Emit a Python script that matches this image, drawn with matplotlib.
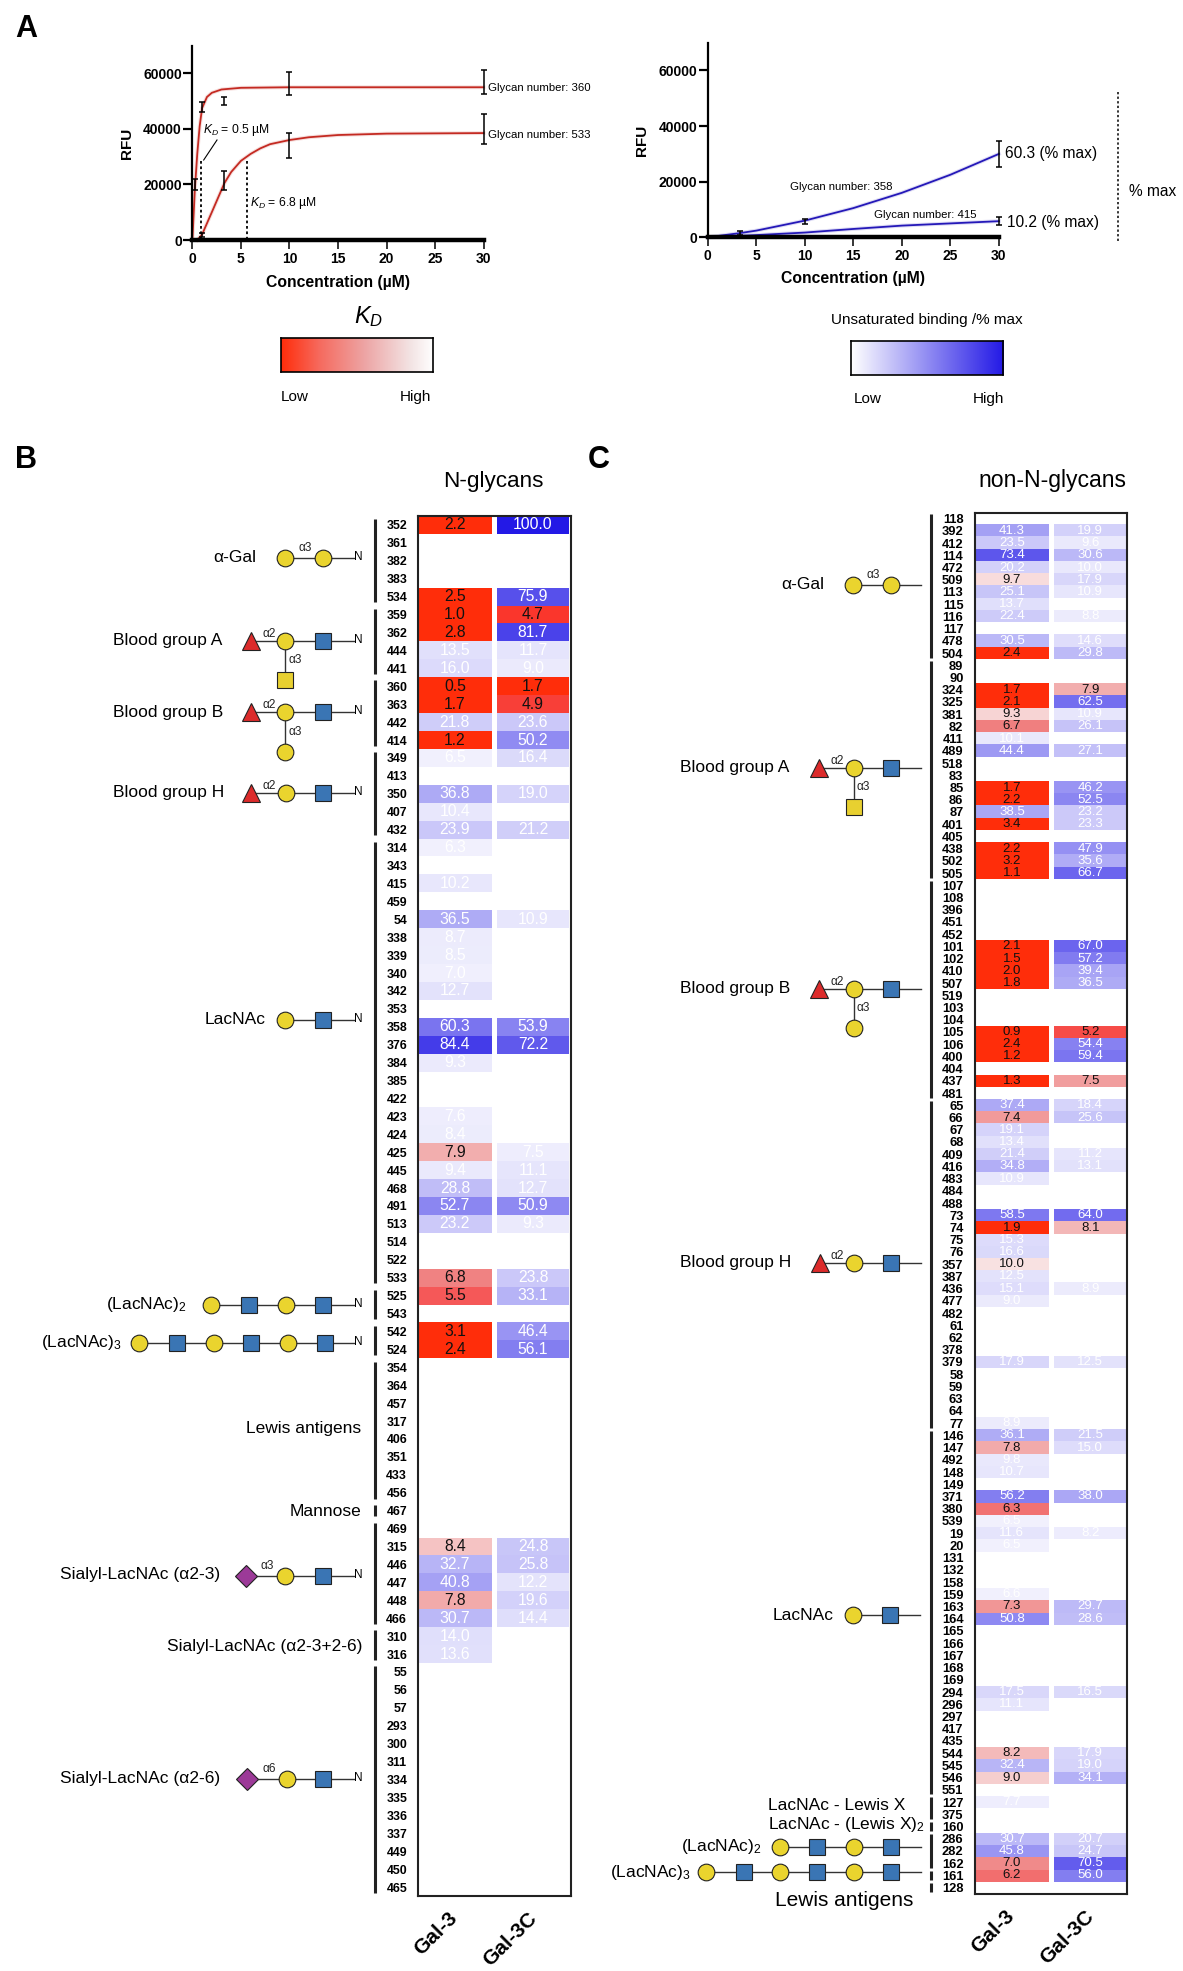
import matplotlib
matplotlib.use('Agg')
import matplotlib.pyplot as plt
import numpy as np
from matplotlib.colors import LinearSegmentedColormap

plt.rcParams['font.family'] = ['Liberation Sans', 'DejaVu Sans']
plt.rcParams['mathtext.fontset'] = 'custom'
plt.rcParams['mathtext.rm'] = 'Liberation Sans'
plt.rcParams['mathtext.it'] = 'Liberation Sans:italic'
plt.rcParams['mathtext.bf'] = 'Liberation Sans:bold'

W, H = 1183, 1971

# panel A, saturated curves
conc_360 = [0, 0.25, 0.5, 0.75, 1, 1.5, 2, 3, 5, 10, 30]
rfu_360 = [0, 18000, 31000, 41000, 47500, 51500, 53000, 54200, 54800, 55000, 55000]
conc_533 = [0.5, 1, 2, 3.3, 4, 5, 6, 7, 8, 10, 12, 15, 20, 30]
rfu_533 = [0, 2000, 10000, 20500, 24500, 28500, 31000, 33000, 34500, 36000, 37000, 37800, 38300, 38500]
pts_360_x = [0.31, 1, 3.3, 10, 30]
pts_360_y = [20000, 47900, 50100, 56400, 56800]
pts_360_err = [2100, 1900, 1500, 4200, 4400]
pts_533_x = [1, 3.3, 10, 30]
pts_533_y = [1800, 21500, 34200, 39900]
pts_533_err = [700, 3500, 4500, 5300]

# panel A, unsaturated curves
conc_358 = [0, 3.3, 5, 10, 15, 20, 25, 30]
rfu_358 = [0, 1500, 2400, 6000, 10500, 16000, 22500, 30000]
conc_415 = [0, 1, 5, 10, 15, 20, 25, 30]
rfu_415 = [0, 100, 800, 1700, 3000, 4200, 5000, 5800]
pts_358_x = [3.3, 10, 30]
pts_358_y = [1600, 5600, 30000]
pts_358_err = [700, 950, 4700]
pts_415_x = [30]
pts_415_y = [5900]
pts_415_err = [1400]

# panel B, rows by group
b_groups = [
    [352, 361, 382, 383, 534],
    [359, 362, 444, 441],
    [360, 363, 442, 414],
    [349, 413, 350, 407, 432],
    [314, 343, 415, 459, 54, 338, 339, 340, 342, 353, 358, 376, 384, 385, 422, 423, 424, 425,
     445, 468, 491, 513, 514, 522, 533],
    [525, 543],
    [542, 524],
    [354, 364, 457, 317, 406, 351, 433, 456],
    [467],
    [469, 315, 446, 447, 448, 466],
    [310, 316],
    [55, 56, 57, 293, 300, 311, 334, 335, 336, 337, 449, 450, 465],
]
b_gal3_kd = {352: 2.2, 534: 2.5, 359: 1.0, 362: 2.8, 360: 0.5, 363: 1.7, 414: 1.2, 425: 7.9,
             533: 6.8, 525: 5.5, 542: 3.1, 524: 2.4, 315: 8.4, 448: 7.8}
b_gal3_pct = {444: 13.5, 441: 16.0, 442: 21.8, 349: 6.5, 350: 36.8, 407: 10.4, 432: 23.9, 314: 6.3,
              415: 10.2, 54: 36.5, 338: 8.7, 339: 8.5, 340: 7.0, 342: 12.7, 358: 60.3, 376: 84.4,
              384: 9.3, 423: 7.6, 424: 8.4, 445: 9.4, 468: 28.8, 491: 52.7, 513: 23.2, 446: 32.7,
              447: 40.8, 466: 30.7, 310: 14.0, 316: 13.6}
b_gal3c_kd = {359: 4.7, 360: 1.7, 363: 4.9}
b_gal3c_pct = {352: 100.0, 534: 75.9, 362: 81.7, 444: 11.7, 441: 9.0, 442: 23.6, 414: 50.2, 349: 16.4,
               350: 19.0, 432: 21.2, 54: 10.9, 358: 53.9, 376: 72.2, 425: 7.5, 445: 11.1, 468: 12.7,
               491: 50.9, 513: 9.3, 533: 23.8, 525: 33.1, 542: 46.4, 524: 56.1, 315: 24.8, 446: 25.8,
               447: 12.2, 448: 19.6, 466: 14.4}

# panel C, rows by group
c_groups = [
    [118, 392, 412, 114, 472, 509, 113, 115, 116, 117, 478, 504],
    [89, 90, 324, 325, 381, 82, 411, 489, 518, 83, 85, 86, 87, 401, 405, 438, 502, 505],
    [107, 108, 396, 451, 452, 101, 102, 410, 507, 519, 103, 104, 105, 106, 400, 404, 437, 481],
    [65, 66, 67, 68, 409, 416, 483, 484, 488, 73, 74, 75, 76, 357, 387, 436, 477, 482, 61, 62,
     378, 379, 58, 59, 63, 64, 77],
    [146, 147, 492, 148, 149, 371, 380, 539, 19, 20, 131, 132, 158, 159, 163, 164, 165, 166, 167,
     168, 169, 294, 296, 297, 417, 435, 544, 545, 546, 551],
    [127, 375],
    [160],
    [286, 282, 162],
    [161],
    [128],
]
c_gal3_kd = {509: 9.7, 504: 2.4, 324: 1.7, 325: 2.1, 381: 9.3, 82: 6.7, 85: 1.7, 86: 2.2, 401: 3.4,
             438: 2.2, 502: 3.2, 505: 1.1, 101: 2.1, 102: 1.5, 410: 2.0, 507: 1.8, 105: 0.9, 106: 2.4,
             400: 1.2, 437: 1.3, 66: 7.4, 74: 1.9, 357: 10.0, 147: 7.8, 380: 6.3, 163: 7.3, 544: 8.2,
             546: 9.0, 162: 7.0, 161: 6.2}
c_gal3_pct = {392: 41.3, 412: 23.5, 114: 73.4, 472: 20.2, 113: 25.1, 115: 13.7, 116: 22.4, 478: 30.5,
              411: 10.1, 489: 44.4, 87: 38.5, 65: 37.4, 67: 19.1, 68: 13.4, 409: 21.4, 416: 34.8,
              483: 10.9, 73: 58.5, 75: 15.3, 76: 16.6, 387: 12.5, 436: 15.1, 477: 9.0, 379: 17.9,
              77: 8.9, 146: 36.1, 492: 9.8, 148: 10.7, 371: 56.2, 539: 6.5, 19: 11.6, 20: 6.5,
              159: 6.6, 164: 50.8, 294: 17.5, 296: 11.1, 545: 32.4, 127: 7.7, 286: 30.7, 282: 45.8}
c_gal3c_kd = {324: 7.9, 105: 5.2, 437: 7.5, 74: 8.1}
c_gal3c_pct = {392: 19.9, 412: 9.6, 114: 30.6, 472: 10.0, 509: 17.9, 113: 10.9, 116: 8.8, 478: 14.6,
               504: 29.8, 325: 62.5, 381: 10.9, 82: 26.1, 489: 27.1, 85: 46.2, 86: 52.5, 87: 23.2,
               401: 23.3, 438: 47.9, 502: 35.6, 505: 66.7, 101: 67.0, 102: 57.2, 410: 39.4, 507: 36.5,
               106: 54.4, 400: 59.4, 65: 18.4, 66: 25.6, 409: 11.2, 416: 13.1, 73: 64.0, 436: 8.9,
               379: 12.5, 146: 21.5, 147: 15.0, 371: 38.0, 19: 8.2, 163: 29.7, 164: 28.6, 294: 16.5,
               544: 17.9, 545: 19.0, 546: 34.1, 286: 20.7, 282: 24.7, 162: 70.5, 161: 56.0}

RED = '#ff2d0a'
BLUE = '#2319e6'
kd_cmap = LinearSegmentedColormap.from_list('kd', [
    (0.00, RED), (0.17, '#fa372d'), (0.29, '#f55a5a'), (0.47, '#f08282'),
    (0.63, '#f3afaf'), (0.70, '#f5c3c3'), (0.93, '#f9e2e2'), (1.00, '#ffffff')])
pct_cmap = LinearSegmentedColormap.from_list('pct', ['#ffffff', BLUE])
bar_red = LinearSegmentedColormap.from_list('barr', [
    (0.00, RED), (0.25, '#f66a5e'), (0.55, '#eda5a5'), (0.85, '#f3e4e4'), (1.00, '#ffffff')])
bar_blue = LinearSegmentedColormap.from_list('barb', ['#ffffff', BLUE])


def kd_norm(v):
    return np.clip((v - 3.5) / 7.0, 0, 1)


fig = plt.figure(figsize=(W / 100, H / 100), dpi=100)


def px_axes(x0, y0, x1, y1):
    return fig.add_axes([x0 / W, 1 - y1 / H, (x1 - x0) / W, (y1 - y0) / H])


# overlay in pixel coordinates for labels and glycan drawings
ov = fig.add_axes([0, 0, 1, 1], zorder=5)
ov.set_xlim(0, W)
ov.set_ylim(H, 0)
ov.axis('off')


def label(x, y, s, size=12, ha='left', **kw):
    ov.text(x, y, s, fontsize=size, ha=ha, va='center', **kw)


def curve_panel(rect, curves, points, color):
    ax = px_axes(*rect)
    for xs, ys in curves:
        ax.plot(xs, ys, color=color, lw=2.8, alpha=0.15, clip_on=False)
        ax.plot(xs, ys, color=color, lw=1.3, clip_on=False)
    for xs, ys, es in points:
        ax.errorbar(xs, ys, yerr=es, fmt='none', ecolor='black', elinewidth=1.1, capsize=2,
                    capthick=1.1, clip_on=False, zorder=4)
    ax.set_xlim(0, 30)
    ax.set_ylim(0, 70000)
    ax.set_xticks(range(0, 31, 5))
    ax.set_yticks([0, 20000, 40000, 60000])
    ax.tick_params(axis='x', length=6.5, width=1.1, labelsize=10, pad=2)
    ax.tick_params(axis='y', length=6.5, width=1.6, labelsize=10, pad=1)
    plt.setp(ax.get_xticklabels() + ax.get_yticklabels(), fontweight='bold')
    ax.spines[['top', 'right']].set_visible(False)
    ax.spines['left'].set_linewidth(1.6)
    ax.spines['bottom'].set_linewidth(3.2)
    ax.patch.set_alpha(0)
    return ax


curve_panel((192.4, 45.6, 483.6, 240), [(conc_360, rfu_360), (conc_533, rfu_533)],
            [(pts_360_x, pts_360_y, pts_360_err), (pts_533_x, pts_533_y, pts_533_err)], '#c42a22')
curve_panel((707.7, 42.7, 998.9, 237.3), [(conc_358, rfu_358), (conc_415, rfu_415)],
            [(pts_358_x, pts_358_y, pts_358_err), (pts_415_x, pts_415_y, pts_415_err)], '#2418b8')

label(15, 29, 'A', 22, fontweight='bold')
label(15, 460, 'B', 22, fontweight='bold')
label(588, 460, 'C', 22, fontweight='bold')

label(127, 143, 'RFU', 11, ha='center', rotation=90, fontweight='bold')
label(642, 140, 'RFU', 11, ha='center', rotation=90, fontweight='bold')
label(338, 282, 'Concentration (\u00b5M)', 11.3, ha='center', fontweight='bold')
label(853, 279, 'Concentration (\u00b5M)', 11.3, ha='center', fontweight='bold')
label(488, 88, 'Glycan number: 360', 8.2)
label(488, 135.5, 'Glycan number: 533', 8.2)
label(203, 130, '$\\mathit{K_D}$ = 0.5 \u00b5M', 8.7)
label(250.5, 203, '$\\mathit{K_D}$ = 6.8 \u00b5M', 8.7)
ov.plot([217, 203.7], [140, 160], color='black', lw=0.8)
ov.plot([201.4, 201.4], [161, 238], color='black', lw=1.3, ls=(0, (1.5, 1.5)))
ov.plot([247.5, 247.5], [161, 238], color='black', lw=1.3, ls=(0, (1.5, 1.5)))

label(790, 187, 'Glycan number: 358', 8.2)
label(873.6, 215, 'Glycan number: 415', 8.2)
label(1005, 153.7, '60.3 (% max)', 11.2)
label(1007, 222, '10.2 (% max)', 11.2)
ov.plot([1118, 1118], [92, 242], color='black', lw=1.1, ls=(0, (1.5, 1.5)))
label(1129, 192, '% max', 11.2)

label(369, 317, '$\\mathit{K_D}$', 17, ha='center')
label(927, 320, 'Unsaturated binding /% max', 11, ha='center')
label(281, 396.7, 'Low', 11)
label(431, 396.7, 'High', 11, ha='right')
label(854, 398.7, 'Low', 11)
label(1004, 398.7, 'High', 11, ha='right')


def gradient_bar(rect, cmap):
    ax = px_axes(*rect)
    ax.imshow(np.linspace(0, 1, 256)[None, :], cmap=cmap, aspect='auto', vmin=0, vmax=1)
    ax.set_xticks([])
    ax.set_yticks([])
    for s in ax.spines.values():
        s.set_linewidth(1.2)


gradient_bar((280.6, 337.5, 433, 372), bar_red)
gradient_bar((851, 340.5, 1003.4, 375), bar_blue)


def heat_column(ax, rows, kd, pct, x0, x1, size):
    rgba = np.ones((len(rows), 1, 4))
    for i, num in enumerate(rows):
        if num in kd:
            rgba[i, 0] = kd_cmap(float(kd_norm(kd[num])))
            ax.text((x0 + x1) / 2, i, f'{kd[num]:.1f}', color='#111111', fontsize=size,
                    ha='center', va='center')
        elif num in pct:
            rgba[i, 0] = pct_cmap(pct[num] / 100)
            ax.text((x0 + x1) / 2, i, f'{pct[num]:.1f}', color='white', fontsize=size,
                    ha='center', va='center')
    ax.imshow(rgba, extent=[x0, x1, len(rows) - 0.5, -0.5], aspect='auto', interpolation='nearest')


def heat_panel(rect, groups, gal3, gal3c, col1, col2, size, row_size, bar_x, label_pad, inset):
    rows = [n for g in groups for n in g]
    ax = px_axes(*rect)
    heat_column(ax, rows, gal3[0], gal3[1], col1[0], col1[1], size)
    heat_column(ax, rows, gal3c[0], gal3c[1], col2[0], col2[1], size)
    ax.set_xlim(rect[0], rect[2])
    ax.set_ylim(len(rows) - 0.5, -0.5)
    ax.set_xticks([])
    ax.set_yticks(range(len(rows)))
    ax.set_yticklabels([str(n) for n in rows], fontweight='bold', fontsize=row_size)
    ax.tick_params(axis='y', length=0, pad=label_pad)
    for s in ax.spines.values():
        s.set_linewidth(1.5)
        s.set_color('#222222')
    # group brackets left of the glycan numbers
    h = (rect[3] - rect[1]) / len(rows)
    start = 0
    for g in groups:
        y0 = rect[1] + start * h + inset
        y1 = rect[1] + (start + len(g)) * h - inset
        ov.plot([bar_x, bar_x], [y0, y1], color='#222222', lw=2.2, solid_capstyle='butt')
        start += len(g)


heat_panel((418.3, 516, 570.7, 1896), b_groups, (b_gal3_kd, b_gal3_pct), (b_gal3c_kd, b_gal3c_pct),
           (418.7, 491), (497, 569), 11.3, 8.9, 375.5, 8, 3.2)
heat_panel((974.6, 512.5, 1127, 1893.7), c_groups, (c_gal3_kd, c_gal3_pct), (c_gal3c_kd, c_gal3c_pct),
           (975.8, 1048), (1054.4, 1126.3), 9.5, 9.3, 931.5, 8, 1.5)

label(493.5, 481, 'N-glycans', 16.2, ha='center')
label(1052.5, 481, 'non-N-glycans', 16.6, ha='center')
for x, y, s in [(436, 1934, 'Gal-3'), (510, 1939.5, 'Gal-3C'), (993, 1932, 'Gal-3'), (1067, 1937, 'Gal-3C')]:
    label(x, y, s, 15, ha='center', rotation=45, fontweight='bold', rotation_mode='anchor')

# glycan symbol styles
SUGARS = {
    'gal': dict(marker='o', ms=12, mfc='#ead42e'),
    'glcnac': dict(marker='s', ms=11, mfc='#3a75b4'),
    'galnac': dict(marker='s', ms=11, mfc='#e8d030'),
    'fuc': dict(marker='^', ms=13.5, mfc='#dc2b2b'),
    'sia': dict(marker='D', ms=11, mfc='#9c3a98'),
}


def sugar(kind, x, y):
    ov.plot([x], [y], mec='#222222', mew=0.8, ls='none', zorder=3, **SUGARS[kind])


def chain(items, y, end, n_label=True):
    ov.plot([items[0][1], end], [y, y], color='#333333', lw=1, zorder=2)
    for kind, x in items:
        sugar(kind, x, y)
    if n_label:
        label(end + 0.5, y - 1, 'N', 8.5)


def link(x, y, s):
    label(x, y, s, 8.5, ha='center', color='#222222')


def branch(kind, x, y0, y1):
    ov.plot([x, x], [y0, y1], color='#333333', lw=1, zorder=2)
    sugar(kind, x, y1)


# panel B glycans
label(213, 558, '\u03b1-Gal', 12.5)
chain([('gal', 285), ('gal', 323)], 558, 353.6)
link(305.5, 548, '\u03b13')

label(113, 641, 'Blood group A', 12.5)
chain([('fuc', 250.6), ('gal', 285), ('glcnac', 323)], 641, 353.6)
link(269, 633.7, '\u03b12')
branch('galnac', 285, 641, 680)
link(295, 660, '\u03b13')

label(113, 712, 'Blood group B', 12.5)
chain([('fuc', 250.6), ('gal', 285.5), ('glcnac', 323.5)], 712, 353.6)
link(269, 705.3, '\u03b12')
branch('gal', 285.5, 712, 752)
link(295, 731.7, '\u03b13')

label(113, 792.7, 'Blood group H', 12.5)
chain([('fuc', 251.5), ('gal', 286), ('glcnac', 323.5)], 792.7, 353.6)
link(269, 786, '\u03b12')

label(205, 1019.7, 'LacNAc', 12.5)
chain([('gal', 285.5), ('glcnac', 323)], 1020, 353.6)
label(106.5, 1305, '(LacNAc)$_2$', 12.5)
chain([('gal', 211.5), ('glcnac', 248.7), ('gal', 286), ('glcnac', 323)], 1305, 353.6)
label(40.6, 1342.7, '(LacNAc)$_3$', 12.5)
chain([('gal', 139), ('glcnac', 176.8), ('gal', 213.7), ('glcnac', 251), ('gal', 287.8), ('glcnac', 325)],
      1342.7, 353.6)
label(361, 1428.7, 'Lewis antigens', 12.5, ha='right')
label(361, 1511, 'Mannose', 12.5, ha='right')

label(60, 1575, 'Sialyl-LacNAc (\u03b12-3)', 12.5)
chain([('sia', 245.7), ('gal', 285), ('glcnac', 323)], 1576, 353.6)
link(267.5, 1566, '\u03b13')
label(362, 1646, 'Sialyl-LacNAc (\u03b12-3+2-6)', 12.5, ha='right')
label(60, 1779, 'Sialyl-LacNAc (\u03b12-6)', 12.5)
chain([('sia', 247), ('gal', 286.7), ('glcnac', 323.5)], 1779, 353.6)
link(269, 1769.5, '\u03b16')

# panel C glycans
label(781, 584.3, '\u03b1-Gal', 12.5)
chain([('gal', 853), ('gal', 890.7)], 585, 921, n_label=False)
link(873, 575, '\u03b13')

label(680, 767.7, 'Blood group A', 12.5)
chain([('fuc', 819.2), ('gal', 853.6), ('glcnac', 891)], 768, 921, n_label=False)
link(837, 760.7, '\u03b12')
branch('galnac', 853.6, 768, 806.7)
link(863, 786.7, '\u03b13')

label(680, 988, 'Blood group B', 12.5)
chain([('fuc', 819), ('gal', 854), ('glcnac', 891.4)], 988.5, 921, n_label=False)
link(837.4, 981.7, '\u03b12')
branch('gal', 854, 988.5, 1028)
link(863.5, 1007.7, '\u03b13')

label(680, 1262.7, 'Blood group H', 12.5)
chain([('fuc', 820), ('gal', 854), ('glcnac', 891.4)], 1263, 921, n_label=False)
link(837, 1255.7, '\u03b12')

label(773, 1615, 'LacNAc', 12.5)
chain([('gal', 853), ('glcnac', 890.3)], 1615, 920, n_label=False)
label(768.5, 1805.7, 'LacNAc - Lewis X', 12.5)
label(768.5, 1824.7, 'LacNAc - (Lewis X)$_2$', 12.5)
label(680.8, 1846.7, '(LacNAc)$_2$', 12.5)
chain([('gal', 780), ('glcnac', 817.3), ('gal', 854), ('glcnac', 891.4)], 1846.7, 921, n_label=False)
label(610, 1872, '(LacNAc)$_3$', 12.5)
chain([('gal', 705.7), ('glcnac', 743.6), ('gal', 780), ('glcnac', 817.3), ('gal', 854), ('glcnac', 891.4)],
      1872, 921, n_label=False)
label(844, 1900, 'Lewis antigens', 15, ha='center')

fig.savefig('out.png', dpi=100)
